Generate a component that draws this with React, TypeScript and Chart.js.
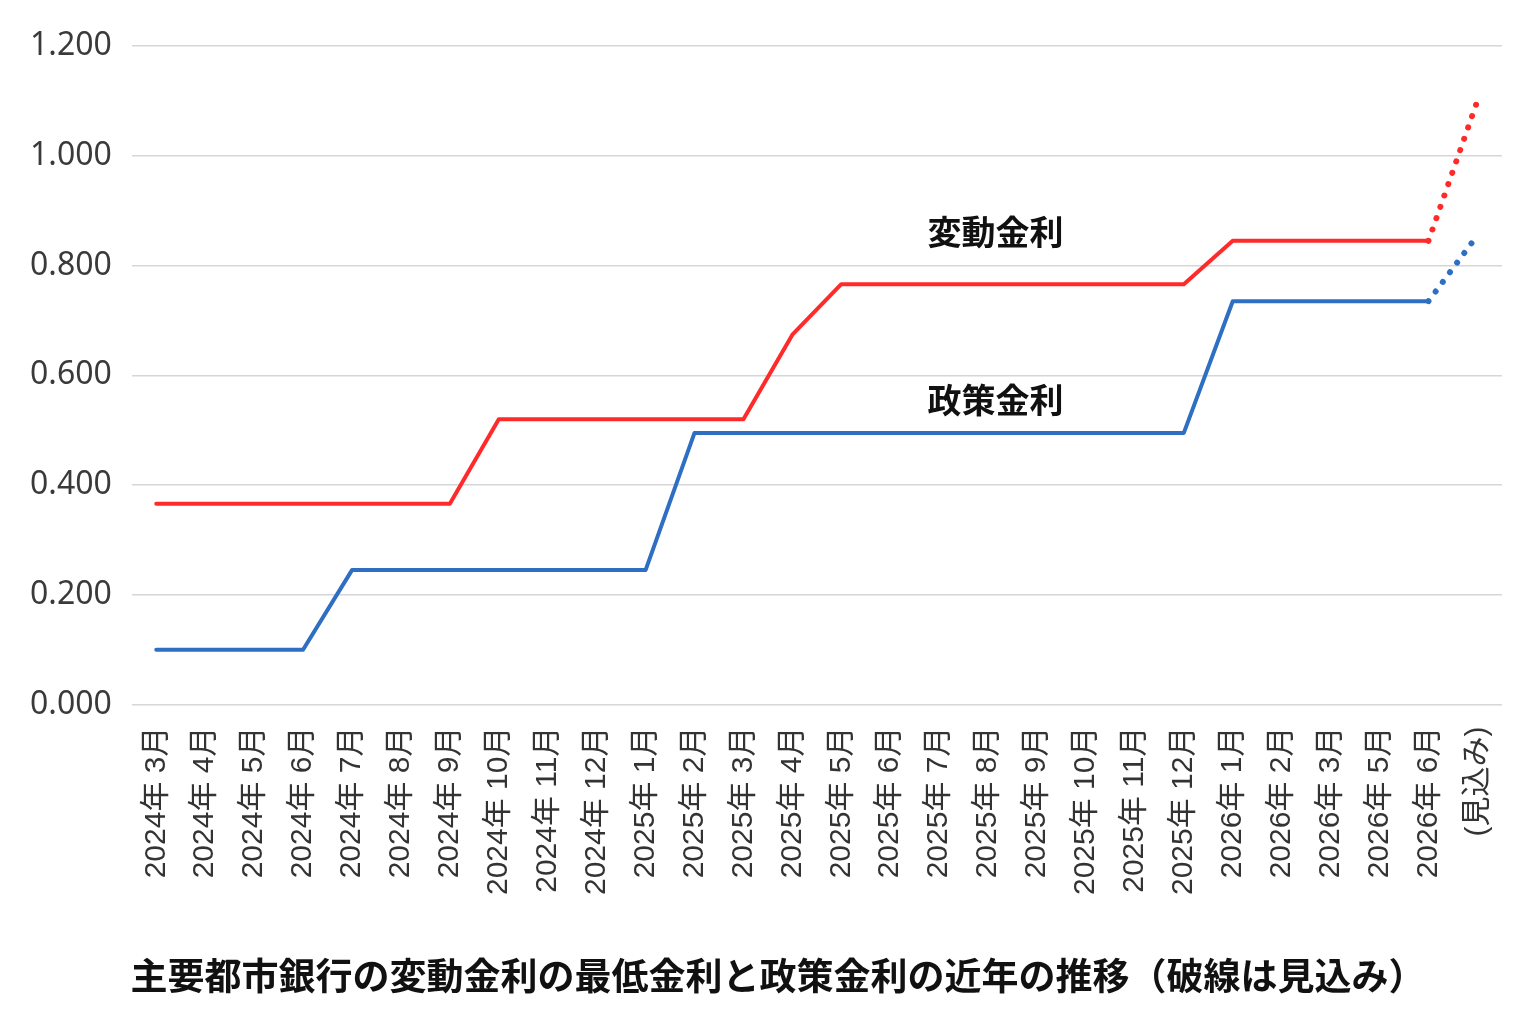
import { useEffect, useRef } from "react";
import { Chart, registerables } from "chart.js";

Chart.register(...registerables);

const categories = [
  "2024年 3月", "2024年 4月", "2024年 5月", "2024年 6月", "2024年 7月",
  "2024年 8月", "2024年 9月", "2024年 10月", "2024年 11月", "2024年 12月",
  "2025年 1月", "2025年 2月", "2025年 3月", "2025年 4月", "2025年 5月",
  "2025年 6月", "2025年 7月", "2025年 8月", "2025年 9月", "2025年 10月",
  "2025年 11月", "2025年 12月", "2026年 1月", "2026年 2月", "2026年 3月",
  "2026年 5月", "2026年 6月", "(見込み)",
];

const floatingRate = [
  0.366, 0.366, 0.366, 0.366, 0.366, 0.366, 0.366,
  0.52, 0.52, 0.52, 0.52, 0.52, 0.52,
  0.674,
  0.766, 0.766, 0.766, 0.766, 0.766, 0.766, 0.766, 0.766,
  0.845, 0.845, 0.845, 0.845, 0.845,
  1.1,
];

const policyRate = [
  0.1, 0.1, 0.1, 0.1,
  0.245, 0.245, 0.245, 0.245, 0.245, 0.245, 0.245,
  0.495, 0.495, 0.495, 0.495, 0.495, 0.495, 0.495, 0.495, 0.495, 0.495, 0.495,
  0.735, 0.735, 0.735, 0.735, 0.735,
  0.855,
];

// index of last actual (non-forecast) point
const lastActualIndex = 26;

const seriesNames = ["変動金利", "政策金利"];
const annotationIndex = [17.15, 17.15];
const annotationValue = [0.861, 0.555];

const yTicks = [0, 0.2, 0.4, 0.6, 0.8, 1.0, 1.2];

const chartTitle = "主要都市銀行の変動金利の最低金利と政策金利の近年の推移（破線は見込み）";

const CJK = '"Noto Sans CJK JP"';

const annotationPlugin = {
  id: "seriesAnnotations",
  afterDatasetsDraw(chart: any) {
    const { ctx, scales } = chart;
    ctx.save();
    ctx.font = `bold 34px ${CJK}`;
    ctx.fillStyle = "#111111";
    ctx.textAlign = "center";
    ctx.textBaseline = "middle";
    seriesNames.forEach((name, i) => {
      const x = scales.x.getPixelForValue(annotationIndex[i]);
      const y = scales.y.getPixelForValue(annotationValue[i]);
      ctx.fillText(name, x, y);
    });
    ctx.restore();
  },
};

// Title centred on the canvas, in the space reserved by layout.padding.bottom
const bottomTitlePlugin = {
  id: "bottomTitle",
  afterDraw(chart: any) {
    const { ctx, width, height } = chart;
    ctx.save();
    ctx.font = `bold 37px ${CJK}`;
    ctx.fillStyle = "#111111";
    ctx.textAlign = "center";
    ctx.textBaseline = "middle";
    ctx.fillText(chartTitle, width / 2 + 10, height - 48);
    ctx.restore();
  },
};

const forecastDash = (ctx: any) =>
  ctx.p0DataIndex >= lastActualIndex ? [0.01, 12] : undefined;
const forecastWidth = (ctx: any) =>
  ctx.p0DataIndex >= lastActualIndex ? 6 : undefined;

export default function App() {
  const canvasRef = useRef<HTMLCanvasElement | null>(null);

  useEffect(() => {
    if (!canvasRef.current) return;
    const chart = new Chart(canvasRef.current, {
      type: "line",
      data: {
        labels: categories,
        datasets: [
          {
            label: seriesNames[0],
            data: floatingRate,
            borderColor: "#FF2B2B",
            backgroundColor: "#FF2B2B",
            borderWidth: 4,
            borderCapStyle: "round",
            borderJoinStyle: "round",
            pointRadius: 0,
            tension: 0,
            segment: { borderDash: forecastDash, borderWidth: forecastWidth },
          },
          {
            label: seriesNames[1],
            data: policyRate,
            borderColor: "#2E6EC3",
            backgroundColor: "#2E6EC3",
            borderWidth: 4,
            borderCapStyle: "round",
            borderJoinStyle: "round",
            pointRadius: 0,
            tension: 0,
            segment: { borderDash: forecastDash, borderWidth: forecastWidth },
          },
        ],
      },
      options: {
        animation: false,
        responsive: true,
        maintainAspectRatio: false,
        layout: { padding: { top: 46, left: 10, right: 33, bottom: 107 } },
        plugins: {
          legend: { display: false },
          tooltip: { enabled: false },
          title: { display: false },
        },
        scales: {
          x: {
            offset: true,
            grid: { display: false, drawTicks: false },
            border: { display: false },
            ticks: {
              autoSkip: false,
              maxRotation: 90,
              minRotation: 90,
              padding: 22,
              color: "#333333",
              font: { family: `"Liberation Sans", ${CJK}`, size: 30 },
            },
          },
          y: {
            min: 0,
            max: 1.2,
            afterBuildTicks: (scale: any) => {
              scale.ticks = yTicks.map((v) => ({ value: v }));
            },
            grid: { color: "#d6d6d6", lineWidth: 1.5, drawTicks: false },
            border: { display: false },
            ticks: {
              padding: 20,
              color: "#3a3a3a",
              font: { family: '"Noto Sans"', size: 32 },
              callback: (v: any) => Number(v).toFixed(3),
            },
          },
        },
      },
      plugins: [annotationPlugin, bottomTitlePlugin],
    });
    return () => chart.destroy();
  }, []);

  return (
    <div
      style={{
        position: "fixed",
        left: 0,
        top: 0,
        width: 1536,
        height: 1024,
        background: "#ffffff",
      }}
    >
      <canvas ref={canvasRef} />
    </div>
  );
}
